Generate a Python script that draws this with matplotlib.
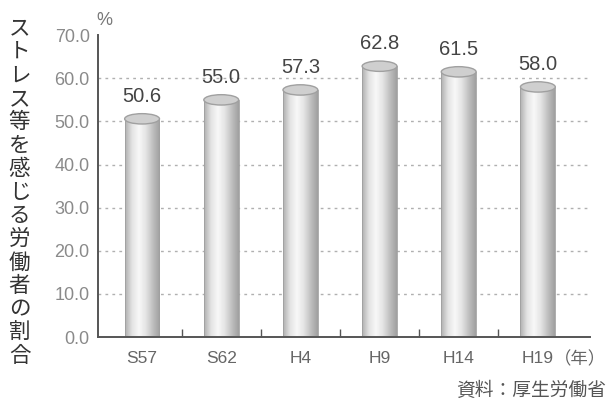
import numpy as np
import matplotlib
matplotlib.use("Agg")
import matplotlib.pyplot as plt
from matplotlib.patches import Ellipse
from matplotlib.colors import LinearSegmentedColormap

# data
years = ["S57", "S62", "H4", "H9", "H14", "H19"]
values = [50.6, 55.0, 57.3, 62.8, 61.5, 58.0]
yticks = [0, 10, 20, 30, 40, 50, 60, 70]
ylabel = "ストレス等を感じる労働者の割合"
source = "資料：厚生労働省"

num_font = ["Liberation Sans Narrow", "Liberation Sans", "DejaVu Sans"]
jp_font = ["Noto Sans CJK JP", "DejaVu Sans"]

fig = plt.figure(figsize=(6.09, 4.09), dpi=100)
ax = fig.add_axes([0.161, 0.176, 0.808, 0.738])

x = np.arange(len(years))
w = 0.44
ax.set_xlim(-0.556, 5.66)
ax.set_ylim(0, 70)

# gridlines
for t in yticks[1:-1]:
    ax.axhline(t, color="#b0b0b0", lw=1.0, ls=(0, (2, 3)), zorder=0)

# cylinder shading
cmap = LinearSegmentedColormap.from_list(
    "cyl", ["#b0b0b0", "#e4e4e4", "#f8f8f8", "#e4e4e4", "#c0c0c0", "#a0a0a0"])
grad = np.linspace(0, 1, 64).reshape(1, -1)
bars = ax.bar(x, values, width=w, color="none", edgecolor="none", zorder=2)
ax.bar(x, values, width=w, color="none", edgecolor="#a0a0a0", lw=0.6, zorder=2.5)
for rect, xi, v in zip(bars, x, values):
    im = ax.imshow(grad, cmap=cmap, aspect="auto", zorder=2,
                   extent=[xi - w / 2, xi + w / 2, 0, v])
    im.set_clip_path(rect)
    ax.add_patch(Ellipse((xi, v), w, 2.4, facecolor="#cfcfcf",
                         edgecolor="#a0a0a0", lw=1.0, zorder=3))
    ax.text(xi, v + 3.0, "%.1f" % v, ha="center", va="bottom",
            fontsize=14.5, color="#444444", family=num_font)

# axes
for s in ["top", "right"]:
    ax.spines[s].set_visible(False)
for s in ["left", "bottom"]:
    ax.spines[s].set_color("#555555")
    ax.spines[s].set_linewidth(1.4)

ax.set_yticks(yticks)
ax.set_yticklabels(["%.1f" % t for t in yticks], fontsize=13,
                   color="#8a8a8a", family=num_font)
ax.tick_params(axis="y", length=0, pad=6)

ax.set_xticks(x[:-1] + 0.5)
ax.set_xticklabels([])
ax.tick_params(axis="x", direction="in", length=6, width=1.0, color="#555555")
for xi, lab in zip(x, years):
    ax.text(xi, -3.2, lab, ha="center", va="top", fontsize=12.5,
            color="#666666", family=num_font)
ax.text(x[-1] + 0.2, -3.0, "（年）", ha="left", va="top", fontsize=12.5,
        color="#666666", family=jp_font)

ax.text(-0.58, 71.5, "%", ha="left", va="bottom", fontsize=13,
        color="#777777", family=num_font)

fig.text(0.032, 0.53, "\n".join(ylabel), ha="center", va="center",
         fontsize=15.5, linespacing=1.08, color="#333333", family=jp_font)
fig.text(0.995, 0.045, source, ha="right", va="center", fontsize=13.5,
         color="#555555", family=jp_font)

fig.savefig("out.png", dpi=100)
